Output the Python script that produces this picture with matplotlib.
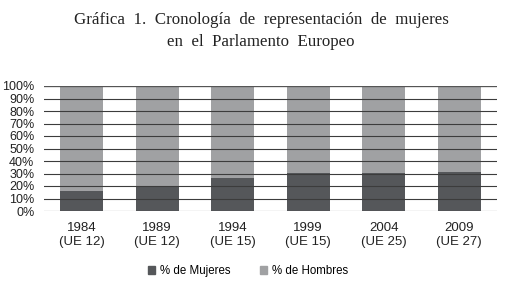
import numpy as np
import matplotlib
matplotlib.use("Agg")
import matplotlib.pyplot as plt
from matplotlib.patches import Patch

years = ["1984\n(UE 12)", "1989\n(UE 12)", "1994\n(UE 15)", "1999\n(UE 15)", "2004\n(UE 25)", "2009\n(UE 27)"]
mujeres = [16.0, 19.7, 26.2, 30.1, 30.6, 31.2]
hombres = [100 - m for m in mujeres]
yticks = list(range(0, 101, 10))

dark = "#55575a"
light = "#a0a1a3"

fig = plt.figure(figsize=(5.11, 2.85), dpi=100)
ax = fig.add_axes([44/511, 1 - 211/285, 453/511, 125/285])

x = np.arange(len(years))
ax.bar(x, mujeres, width=0.57, color=dark, zorder=2)
ax.bar(x, hombres, bottom=mujeres, width=0.57, color=light, zorder=2)

ax.set_xlim(-0.5, len(years) - 0.5)
ax.set_ylim(0, 100)
ax.set_yticks(yticks)
ax.set_yticklabels([f"{t}%" for t in yticks], fontsize=9, family="Liberation Sans", color="#222222")
ax.set_xticks(x)
ax.set_xticklabels(years, fontsize=9.5, family="Liberation Sans", color="#222222", linespacing=1.25)
ax.tick_params(axis="y", length=0, pad=7)
ax.tick_params(axis="x", length=0, pad=8)
for t in yticks:
    ax.axhline(t, color="#3c3c3c", lw=0.8, zorder=3)
ax.axhline(100, color="#555555", lw=1.6, zorder=3)
for s in ax.spines.values():
    s.set_visible(False)

fig.text(261/511, 1 - 20/285, "Gráfica  1.  Cronología  de  representación  de  mujeres",
         ha="center", va="center", fontsize=12.2, family="Liberation Serif", color="#222222")
fig.text(261/511, 1 - 42/285, "en  el  Parlamento  Europeo",
         ha="center", va="center", fontsize=12.2, family="Liberation Serif", color="#222222")

handles = [Patch(color=dark, label="% de Mujeres"), Patch(color=light, label="% de Hombres")]
fig.legend(handles=handles, loc="center", bbox_to_anchor=(248/511, 1 - 271/285), ncol=2,
           frameon=False, prop={"family": "Liberation Sans", "size": 8.3},
           handlelength=0.6, handleheight=0.6, handletextpad=0.4, columnspacing=2.6)

fig.savefig("out.png", dpi=100)
